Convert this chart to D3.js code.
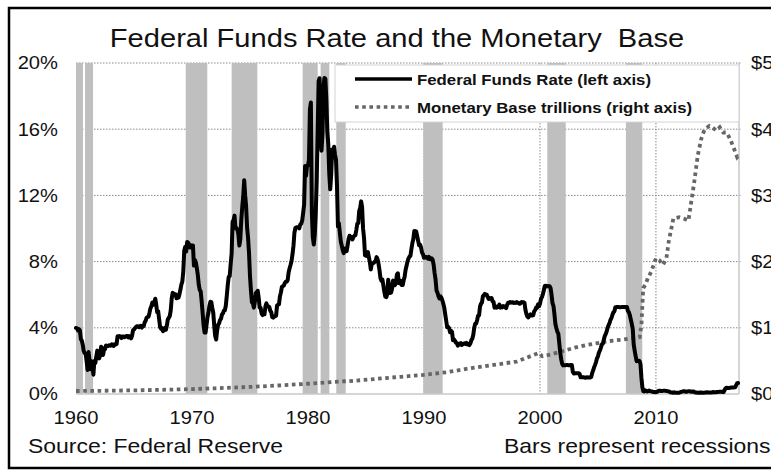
<!DOCTYPE html>
<html>
<head>
<meta charset="utf-8">
<script src="https://cdn.jsdelivr.net/npm/d3@7"></script>
<style>
  body { margin: 0; background: #fff; }
  text { font-family: "Liberation Sans", Arial, sans-serif; fill: #111; white-space: pre; }
</style>
</head>
<body>
<svg id="chart" width="771" height="470"></svg>
<script>
// chart values
const chartTitle = "Federal Funds Rate and the Monetary  Base";
const yearTicks = [1960, 1970, 1980, 1990, 2000, 2010];
const rateTicks = [0, 4, 8, 12, 16, 20];
const baseTicks = [0, 1, 2, 3, 4, 5];
const legendLabels = ["Federal Funds Rate (left axis)", "Monetary Base trillions (right axis)"];
const sourceNote = "Source: Federal Reserve";
const barsNote = "Bars represent recessions";

// grey recession columns [start, end] in years
const recessions = [
  [1960.0, 1960.6], [1960.78, 1961.47], [1969.46, 1971.32], [1973.42, 1975.63],
  [1979.54, 1980.84], [1981.09, 1981.84], [1982.44, 1983.25], [1989.94, 1991.61],
  [2000.63, 2002.22], [2007.41, 2008.82]
];

// effective fed funds rate, % , monthly from Jan 1960
const fedFundsStart = 1960;
const fedFunds = [
  3.99,3.97,3.84,3.92,3.85,3.32,3.23,2.98,2.60,2.47,2.44,1.98,
  1.45,2.54,2.02,1.49,1.98,1.73,1.17,2.00,1.88,2.26,2.62,2.33,
  2.15,2.37,2.85,2.78,2.36,2.68,2.71,2.93,2.90,2.90,2.94,2.93,
  2.92,3.00,2.98,2.90,3.00,2.99,3.02,3.49,3.48,3.50,3.48,3.38,
  3.48,3.48,3.43,3.47,3.50,3.50,3.42,3.50,3.45,3.36,3.52,3.85,
  3.90,3.98,4.04,4.09,4.10,4.04,4.09,4.12,4.01,4.08,4.10,4.32,
  4.42,4.60,4.65,4.67,4.90,5.17,5.30,5.53,5.40,5.53,5.76,5.40,
  4.94,5.00,4.53,4.05,3.94,3.98,3.79,3.90,3.99,3.88,4.13,4.51,
  4.60,4.71,5.05,5.76,6.11,6.07,6.02,6.03,5.78,5.91,5.82,6.02,
  6.30,6.61,6.79,7.41,8.67,8.90,8.61,9.19,9.15,9.00,8.85,8.97,
  8.98,8.98,7.76,8.10,7.95,7.61,7.21,6.61,6.29,6.20,5.60,4.90,
  4.14,3.72,3.71,4.15,4.63,4.91,5.31,5.57,5.55,5.20,4.91,4.14,
  3.50,3.29,3.83,4.17,4.27,4.46,4.55,4.80,4.87,5.04,5.06,5.33,
  5.94,6.58,7.09,7.12,7.84,8.49,10.40,10.50,10.78,10.01,10.03,9.95,
  9.65,8.97,9.35,10.51,11.31,11.93,12.92,12.01,11.34,10.06,9.45,8.53,
  7.13,6.24,5.54,5.49,5.22,5.55,6.10,6.14,6.24,5.82,5.22,5.20,
  4.87,4.77,4.84,4.82,5.29,5.48,5.31,5.29,5.25,5.03,4.95,4.65,
  4.61,4.68,4.69,4.73,5.35,5.39,5.42,5.90,6.14,6.47,6.51,6.56,
  6.70,6.78,6.79,6.89,7.36,7.60,7.81,8.04,8.45,8.96,9.76,10.03,
  10.07,10.06,10.09,10.01,10.24,10.29,10.47,10.94,11.43,13.77,13.18,13.78,
  13.82,14.13,17.19,17.61,10.98,9.47,9.03,9.61,10.87,12.81,15.85,18.90,
  19.08,15.93,14.70,15.72,18.52,19.10,19.04,17.82,15.87,15.08,13.31,12.37,
  13.22,14.78,14.68,14.94,14.45,14.15,12.59,10.12,10.31,9.71,9.20,8.95,
  8.68,8.51,8.77,8.80,8.63,8.98,9.37,9.56,9.45,9.48,9.34,9.47,
  9.56,9.59,9.91,10.29,10.32,11.06,11.23,11.64,11.30,9.99,9.43,8.38,
  8.35,8.50,8.58,8.27,7.97,7.53,7.88,7.90,7.92,7.99,8.05,8.27,
  8.14,7.86,7.48,6.99,6.85,6.92,6.56,6.17,5.89,5.85,6.04,6.91,
  6.43,6.10,6.13,6.37,6.85,6.73,6.58,6.73,7.22,7.29,6.69,6.77,
  6.83,6.58,6.58,6.87,7.09,7.51,7.75,8.01,8.19,8.30,8.35,8.76,
  9.12,9.36,9.85,9.84,9.81,9.53,9.24,8.99,9.02,8.84,8.55,8.45,
  8.23,8.24,8.28,8.26,8.18,8.29,8.15,8.13,8.20,8.11,7.81,7.31,
  6.91,6.25,6.12,5.91,5.78,5.90,5.82,5.66,5.45,5.21,4.81,4.43,
  4.03,4.06,3.98,3.73,3.82,3.76,3.25,3.30,3.22,3.10,3.09,2.92,
  3.02,3.03,3.07,2.96,3.00,3.04,3.06,3.03,3.09,2.99,3.02,2.96,
  3.05,3.25,3.34,3.56,4.01,4.25,4.26,4.47,4.73,4.76,5.29,5.45,
  5.53,5.92,5.98,6.05,6.01,6.00,5.85,5.74,5.80,5.76,5.80,5.60,
  5.56,5.22,5.31,5.22,5.24,5.27,5.40,5.22,5.30,5.24,5.31,5.29,
  5.25,5.19,5.39,5.51,5.50,5.56,5.52,5.54,5.54,5.50,5.52,5.50,
  5.56,5.51,5.49,5.45,5.49,5.56,5.54,5.55,5.51,5.07,4.83,4.68,
  4.63,4.76,4.81,4.74,4.74,4.76,4.99,5.07,5.22,5.20,5.42,5.30,
  5.45,5.73,5.85,6.02,6.27,6.53,6.54,6.50,6.52,6.51,6.51,6.40,
  5.98,5.49,5.31,4.80,4.21,3.97,3.77,3.65,3.07,2.49,2.09,1.82,
  1.73,1.74,1.73,1.75,1.75,1.75,1.73,1.74,1.75,1.75,1.34,1.24,
  1.24,1.26,1.25,1.26,1.26,1.22,1.01,1.03,1.01,1.01,1.00,0.98,
  1.00,1.01,1.00,1.00,1.00,1.03,1.26,1.43,1.61,1.76,1.93,2.16,
  2.28,2.50,2.63,2.79,3.00,3.04,3.26,3.50,3.62,3.78,4.00,4.16,
  4.29,4.49,4.59,4.79,4.94,4.99,5.24,5.25,5.25,5.25,5.25,5.24,
  5.25,5.26,5.26,5.25,5.25,5.25,5.26,5.02,4.94,4.76,4.49,4.24,
  3.94,2.98,2.61,2.28,1.98,2.00,2.01,2.00,1.81,0.97,0.39,0.16,
  0.15,0.22,0.18,0.15,0.18,0.21,0.16,0.16,0.15,0.12,0.12,0.12,
  0.11,0.13,0.16,0.20,0.20,0.18,0.18,0.19,0.19,0.19,0.19,0.18,
  0.17,0.16,0.14,0.10,0.09,0.09,0.07,0.10,0.08,0.07,0.08,0.07,
  0.08,0.10,0.13,0.14,0.16,0.16,0.16,0.13,0.14,0.16,0.16,0.16,
  0.14,0.15,0.14,0.15,0.11,0.09,0.09,0.08,0.08,0.09,0.08,0.09,
  0.07,0.07,0.08,0.09,0.09,0.10,0.09,0.09,0.09,0.09,0.09,0.12,
  0.11,0.11,0.11,0.12,0.12,0.13,0.13,0.14,0.14,0.12,0.12,0.24,
  0.34,0.38,0.36,0.37,0.37,0.38,0.39,0.40,0.40,0.40,0.41,0.54,
  0.65,0.66
];

// monetary base, $ trillions: [year, value]
const monetaryBase = [
  [1960.0,0.045],[1962,0.048],[1964,0.053],[1966,0.058],[1968,0.066],[1970,0.074],
  [1972,0.086],[1974,0.100],[1976,0.115],[1978,0.135],[1980,0.155],[1982,0.180],
  [1984,0.200],[1986,0.230],[1988,0.260],[1990,0.290],[1992,0.330],[1994,0.390],
  [1996,0.440],[1998,0.490],[1999.9,0.620],[2000.2,0.570],[2001,0.600],[2002,0.650],
  [2003,0.700],[2004,0.740],[2005,0.770],[2006,0.800],[2007,0.820],[2008.6,0.860],
  [2008.75,1.05],[2008.9,1.60],[2009.1,1.65],[2009.3,1.75],[2009.6,1.85],[2010.0,2.05],
  [2010.3,2.02],[2010.6,1.95],[2010.9,2.05],[2011.1,2.30],[2011.5,2.65],[2012.0,2.67],
  [2012.4,2.65],[2012.8,2.62],[2013.0,2.85],[2013.3,3.20],[2013.6,3.60],[2013.9,3.85],
  [2014.2,4.00],[2014.6,4.05],[2014.9,4.02],[2015.2,3.98],[2015.5,4.03],[2015.8,3.95],
  [2016.1,3.95],[2016.4,3.85],[2016.7,3.72],[2017.0,3.58],[2017.1,3.60]
];

const svg = d3.select("#chart");
const sx = 1.12; // the picture's lettering is a bit wide

const x = d3.scaleLinear().domain([1960, 2017.16]).range([76, 739]);
const yRate = d3.scaleLinear().domain([0, 20]).range([394, 63]);
const yBase = d3.scaleLinear().domain([0, 5]).range([394, 63]);

// wide text helper
function wideText(g, px, py, str, anchor, size, weight) {
  return g.append("text")
    .attr("transform", `translate(${px},${py}) scale(${sx},1)`)
    .attr("text-anchor", anchor)
    .style("font-size", size + "px")
    .style("font-weight", weight || "normal")
    .text(str);
}

// outer frame
svg.append("rect")
  .attr("x", 9).attr("y", 8).attr("width", 800).attr("height", 460)
  .attr("fill", "none").attr("stroke", "#000").attr("stroke-width", 2.5);

wideText(svg, 397, 47, chartTitle, "middle", 26);

// dotted grid
const grid = svg.append("g").attr("stroke", "#8a8a8a").attr("stroke-width", 1)
  .attr("stroke-dasharray", "1.5,1.5");
grid.selectAll("line.h").data(rateTicks.filter(d => d > 0)).join("line")
  .attr("x1", x.range()[0]).attr("x2", x.range()[1] + 3)
  .attr("y1", d => yRate(d)).attr("y2", d => yRate(d));
grid.selectAll("line.v").data(yearTicks.filter(d => d > 1960)).join("line")
  .attr("x1", d => x(d)).attr("x2", d => x(d))
  .attr("y1", yRate(20)).attr("y2", yRate(0));

// recession bars
svg.append("g").selectAll("rect").data(recessions).join("rect")
  .attr("x", d => x(d[0]))
  .attr("width", d => x(d[1]) - x(d[0]))
  .attr("y", yRate(20))
  .attr("height", yRate(0) - yRate(20))
  .attr("fill", "#bfbfbf");

// plot frame: bottom and right
svg.append("line").attr("x1", 76).attr("x2", 739).attr("y1", yRate(0)).attr("y2", yRate(0))
  .attr("stroke", "#c8c8c8").attr("stroke-width", 1.5);
svg.append("line").attr("x1", 739).attr("x2", 739).attr("y1", yRate(20)).attr("y2", yRate(0))
  .attr("stroke", "#c8c8c8").attr("stroke-width", 1.5);

// legend box
const leg = svg.append("g");
leg.append("rect").attr("x", 335).attr("y", 65).attr("width", 404).attr("height", 57)
  .attr("fill", "#fff").attr("stroke", "#d4d4d4").attr("stroke-width", 1);

// series
const baseLine = d3.line().x(d => x(d[0])).y(d => yBase(d[1]));
svg.append("path").datum(monetaryBase)
  .attr("d", baseLine)
  .attr("fill", "none").attr("stroke", "#666").attr("stroke-width", 3.8)
  .attr("stroke-dasharray", "3.6,3.6");

const rateLine = d3.line()
  .x((d, i) => x(fedFundsStart + i / 12))
  .y(d => yRate(d));
svg.append("path").datum(fedFunds)
  .attr("d", rateLine)
  .attr("fill", "none").attr("stroke", "#000").attr("stroke-width", 4)
  .attr("stroke-linejoin", "round").attr("stroke-linecap", "round");

// legend content
leg.append("line").attr("x1", 355).attr("x2", 412).attr("y1", 79).attr("y2", 79)
  .attr("stroke", "#000").attr("stroke-width", 3.5);
leg.append("line").attr("x1", 355).attr("x2", 412).attr("y1", 107).attr("y2", 107)
  .attr("stroke", "#666").attr("stroke-width", 3.5).attr("stroke-dasharray", "3.6,3.6");
legendLabels.forEach((t, i) => wideText(leg, 417, 84.5 + i * 28, t, "start", 15, "bold"));

// axis labels
const labels = svg.append("g");
rateTicks.forEach(d => wideText(labels, 58, yRate(d) + 6.3, d + "%", "end", 18));
baseTicks.forEach(d => wideText(labels, 751, yBase(d) + 6.3, "$" + d, "start", 18));
yearTicks.forEach(d => wideText(labels, x(d), 424, String(d), "middle", 18));

wideText(svg, 28, 453, sourceNote, "start", 20.5);
wideText(svg, 504, 453, barsNote, "start", 20.5);
</script>
</body>
</html>
